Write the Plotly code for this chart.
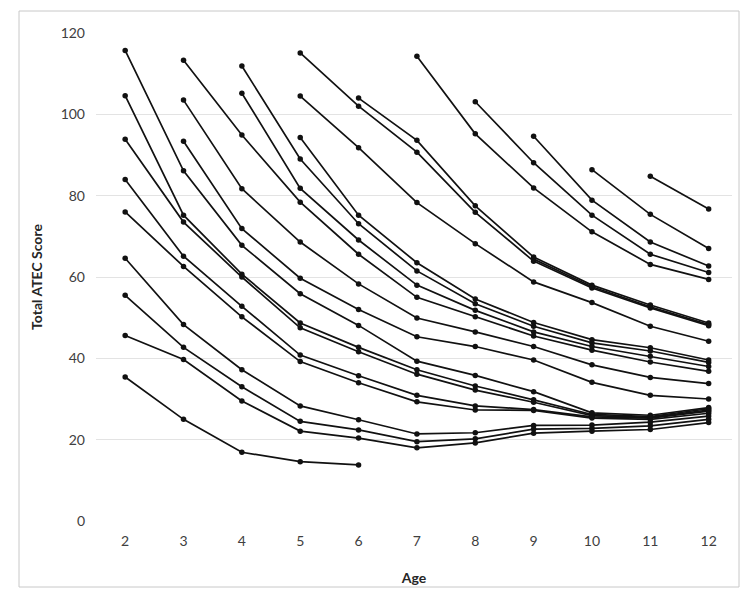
import plotly.graph_objects as go

ages = [2, 3, 4, 5, 6, 7, 8, 9, 10, 11, 12]
y_ticks = [0, 20, 40, 60, 80, 100, 120]

# each trajectory: first age, then ATEC scores for consecutive ages
traj_a = (2, [115.7, 86.1, 67.8, 55.9, 48.1, 39.3, 35.8, 31.8, 26.6, 26.0, 27.9])
traj_b = (2, [104.6, 75.2, 60.7, 48.7, 42.7, 37.2, 33.2, 29.8, 26.2, 25.7, 27.6])
traj_c = (2, [93.9, 73.5, 60.0, 47.5, 41.6, 36.1, 32.2, 29.2, 25.9, 25.5, 27.3])
traj_d = (2, [84.0, 65.1, 52.8, 40.8, 35.7, 30.9, 28.3, 27.4, 25.6, 25.3, 27.0])
traj_e = (2, [76.0, 62.6, 50.2, 39.2, 34.0, 29.3, 27.3, 27.2, 25.3, 25.0, 26.5])
traj_f = (2, [64.6, 48.3, 37.2, 28.3, 24.9, 21.4, 21.7, 23.5, 23.6, 24.3, 25.8])
traj_g = (2, [55.5, 42.7, 33.0, 24.5, 22.4, 19.5, 20.2, 22.6, 22.8, 23.4, 25.0])
traj_h = (2, [45.6, 39.7, 29.5, 22.1, 20.4, 18.0, 19.2, 21.6, 22.1, 22.5, 24.2])
traj_i = (2, [35.4, 25.0, 16.9, 14.6, 13.8])
traj_j = (3, [113.3, 94.9, 78.4, 65.6, 55.0, 50.2, 45.5, 42.0, 39.1, 36.8])
traj_k = (3, [103.5, 81.7, 68.6, 58.3, 49.9, 46.5, 42.9, 38.4, 35.3, 33.8])
traj_l = (3, [93.4, 71.9, 59.7, 52.0, 45.3, 42.9, 39.6, 34.1, 30.9, 30.0])
traj_m = (4, [111.9, 89.0, 73.1, 61.5, 53.4, 47.9, 43.8, 41.8, 39.0])
traj_n = (4, [105.2, 81.8, 69.1, 58.0, 51.8, 46.5, 42.9, 40.5, 38.0])
traj_o = (5, [115.1, 102.0, 90.7, 75.9, 63.9, 57.3, 52.4, 48.0])
traj_p = (5, [104.5, 91.8, 78.3, 68.2, 58.8, 53.7, 47.9, 44.2])
traj_q = (5, [94.3, 75.2, 63.5, 54.6, 48.8, 44.6, 42.6, 39.6])
traj_r = (6, [104.0, 93.6, 77.5, 64.9, 58.0, 53.1, 48.7])
traj_s = (7, [114.3, 95.2, 81.9, 71.1, 63.1, 59.4])
traj_t = (8, [103.1, 88.1, 75.2, 65.6, 61.1])
traj_x = (9, [64.4, 57.6, 52.7, 48.3])
traj_u = (9, [94.6, 78.9, 68.6, 62.7])
traj_v = (10, [86.4, 75.4, 67.0])
traj_w = (11, [84.8, 76.7])

trajectories = [traj_a, traj_b, traj_c, traj_d, traj_e, traj_f, traj_g, traj_h,
                traj_i, traj_j, traj_k, traj_l, traj_m, traj_n, traj_o, traj_p,
                traj_q, traj_r, traj_s, traj_t, traj_x, traj_u, traj_v, traj_w]

fig = go.Figure()
for start, vals in trajectories:
    i0 = ages.index(start)
    xs = ages[i0:i0 + len(vals)]
    fig.add_trace(go.Scatter(
        x=xs, y=vals, mode="lines+markers",
        line=dict(color="#111111", width=1.7),
        marker=dict(color="#111111", size=5.5, symbol="circle"),
        showlegend=False, hoverinfo="x+y"))

# the page body adds an 8 px offset, compensated in the margins
OFF = 8
W, H = 751, 598
ml, mr, mt, mb = 96 - OFF, 19 + OFF, 33 - OFF, 77 + OFF
pw, ph = W - ml - mr, H - mt - mb

def px(x):
    return (x - OFF - ml) / pw

def py(y):
    return (H - mb - (y - OFF)) / ph

fig.add_shape(type="rect", xref="paper", yref="paper",
              x0=px(19), x1=px(739), y0=py(587), y1=py(11),
              line=dict(color="#c8c8c8", width=1), fillcolor="rgba(0,0,0,0)", layer="below")

fig.update_layout(
    width=W, height=H,
    margin=dict(l=ml, r=mr, t=mt, b=mb),
    paper_bgcolor="white", plot_bgcolor="white",
    font=dict(family="Lato, 'Open Sans', sans-serif", size=14, color="#404040"),
    xaxis=dict(
        range=[1.5, 12.4], tickmode="array", tickvals=ages,
        ticktext=[str(a) for a in ages],
        showgrid=False, zeroline=False, showline=False, ticks="",
        tickfont=dict(size=14, color="#404040"),
        ticklabelstandoff=10, automargin=False,
        title=dict(text="<b>Age</b>", font=dict(size=14, color="#262626"), standoff=25),
    ),
    yaxis=dict(
        range=[0, 120], tickmode="array", tickvals=y_ticks,
        showgrid=True, gridcolor="#e3e3e3", gridwidth=1,
        zeroline=False, showline=False, ticks="",
        tickfont=dict(size=14, color="#404040"),
        ticklabelstandoff=10, automargin=False,
        title=dict(text="<b>Total ATEC Score</b>", font=dict(size=14, color="#262626"), standoff=14),
    ),
)

fig.write_html("out.html")
